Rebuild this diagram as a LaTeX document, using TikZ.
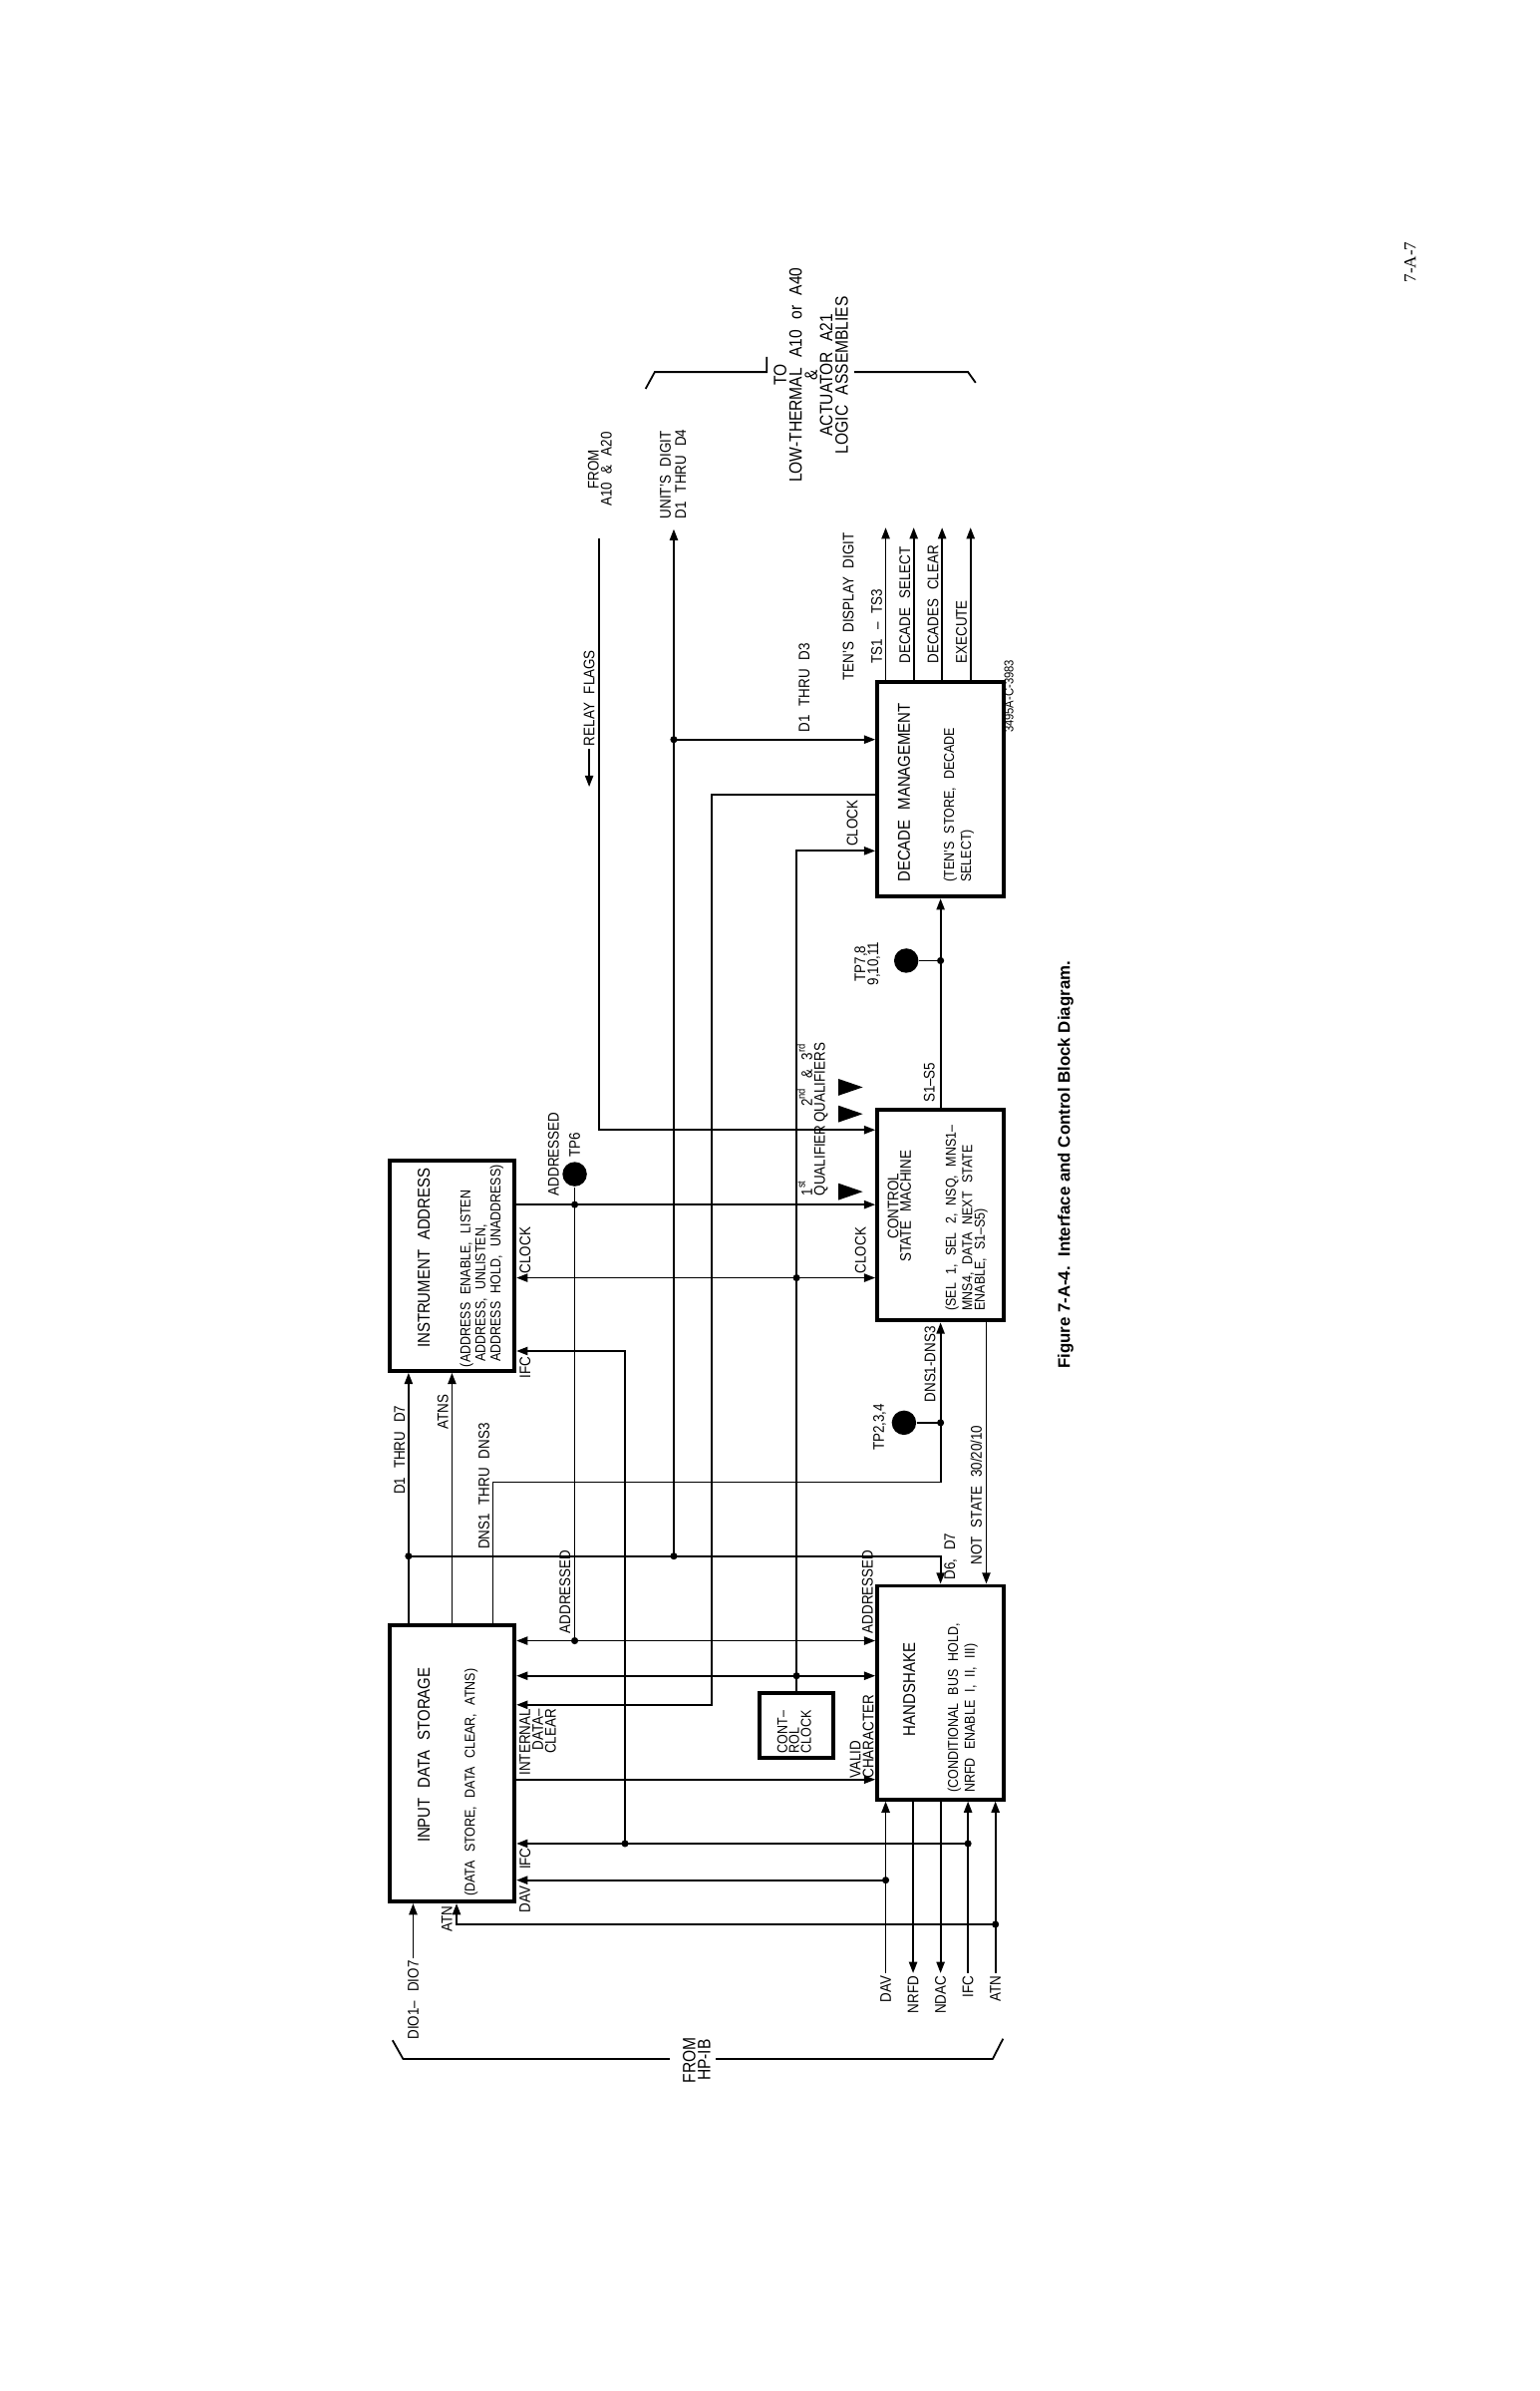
\documentclass[tikz,border=0pt]{standalone}
\usepackage{fontspec}
\setmainfont{Liberation Sans}[FakeStretch=0.87,WordSpace=2.4]
\newfontfamily\figcapfont{Liberation Sans}
\newfontfamily\pagenumfont{Liberation Serif}
\usepackage{tikz}
\usetikzlibrary{arrows.meta}

\tikzset{
    block/.style={draw, line width=1.1pt, inner sep=0pt},
    wire/.style={line width=0.5pt},
    sig/.style={wire, ->},
    sigboth/.style={wire, <->},
    sigtext/.style={font=\fontsize{4.3}{3.6}\selectfont, inner sep=0.6pt},
    blocktitle/.style={font=\fontsize{4.8}{4.8}\selectfont, inner sep=0pt},
    blocknote/.style={font=\fontsize{4}{3.5}\selectfont, inner sep=0pt, align=left, anchor=west},
    testpoint/.style={circle, fill, inner sep=0pt, minimum size=2.4mm},
}

\begin{document}
\begin{tikzpicture}[x=1.5cm, y=1.5cm, >={Triangle[length=1.1mm,width=0.8mm]}]
    \useasboundingbox (0,0) rectangle (10.10,15.68);
    \fill[white] (0,0) rectangle (10.10,15.68);

    \begin{scope}[shift={(10.10,0)}, rotate=90, transform shape]

    % Blocks
    \node[block, minimum width=2.07cm, minimum height=1.23cm] (ia) at (7.38,7.135) {};
    \node[block, minimum width=2.715cm, minimum height=1.23cm] (ids) at (4.115,7.135) {};
    \node[block, minimum width=2.07cm, minimum height=1.245cm] (csm) at (7.71,3.93) {};
    \node[block, minimum width=2.10cm, minimum height=1.245cm] (hs) at (4.58,3.93) {};
    \node[block, minimum width=2.115cm, minimum height=1.245cm] (dm) at (10.505,3.93) {};
    \node[block, minimum width=0.645cm, minimum height=0.72cm] (cc) at (4.365,4.875) {};

    % Block texts
    \node[blocktitle] (ia-t) at (7.43,7.32) {INSTRUMENT ADDRESS};
    \node[blocknote, font=\fontsize{4}{4.2}\selectfont] (ia-n) at (6.71,6.94) {(ADDRESS ENABLE, LISTEN\\\hspace*{1.5pt}ADDRESS, UNLISTEN,\\\hspace*{1.5pt}ADDRESS HOLD, UNADDRESS)};
    \node[blocktitle] (ids-t) at (4.17,7.32) {INPUT DATA STORAGE};
    \node[blocknote] (ids-n) at (3.24,7.01) {(DATA STORE, DATA CLEAR, ATNS)};
    \node[blocktitle, align=center, font=\fontsize{4.3}{3.5}\selectfont] (csm-t) at (7.77,4.20) {CONTROL\\STATE MACHINE};
    \node[blocknote] (csm-n) at (7.08,3.76) {(SEL 1, SEL 2, NSQ, MNS1--\\MNS4, DATA NEXT STATE\\ENABLE, S1--S5)};
    \node[blocktitle] (hs-t) at (4.60,4.135) {HANDSHAKE};
    \node[blocknote] (hs-n) at (3.92,3.785) {(CONDITIONAL BUS HOLD,\\NRFD ENABLE I, II, III)};
    \node[blocktitle, anchor=west] (dm-t) at (9.89,4.17) {DECADE MANAGEMENT};
    \node[blocknote] (dm-n) at (9.89,3.81) {(TEN'S STORE, DECADE\\SELECT)};
    \node[blocknote, font=\fontsize{4}{3.3}\selectfont] (cc-n) at (4.18,4.89) {CONT--\\ROL\\CLOCK};

    % Test points
    \node[testpoint] (tp6) at (7.98,6.33) {};
    \node[testpoint] (tp234) at (6.35,4.17) {};
    \node[testpoint] (tp7) at (9.38,4.155) {};

    % Junctions
    \coordinate (j-adr1) at (7.78,6.33);
    \coordinate (j-adr2) at (4.92,6.33);
    \coordinate (j-clk1) at (7.30,4.875);
    \coordinate (j-clk2) at (4.69,4.875);
    \coordinate (j-d7) at (5.475,7.42);
    \coordinate (j-bus) at (5.475,5.68);
    \coordinate (j-d3) at (10.83,5.68);
    \coordinate (j-dns) at (6.35,3.93);
    \coordinate (j-s) at (9.38,3.93);
    \coordinate (j-ifc1) at (3.59,6.00);
    \coordinate (j-ifc2) at (3.59,3.75);
    \coordinate (j-dav) at (3.35,4.29);
    \coordinate (j-atn) at (3.06,3.57);

    % Free ends and corners
    \coordinate (relay) at (12.15,6.17);
    \coordinate (relay-tip) at (10.52,6.235);
    \coordinate (unit) at (12.21,5.68);
    \coordinate (dio) at (2.84,7.39);
    \coordinate (dav) at (2.74,4.29);
    \coordinate (nrfd) at (2.74,4.11);
    \coordinate (ndac) at (2.74,3.93);
    \coordinate (ifc) at (2.74,3.75);
    \coordinate (atn) at (2.74,3.57);
    \coordinate (ts) at (12.22,4.29);
    \coordinate (dsel) at (12.22,4.106);
    \coordinate (dclr) at (12.22,3.92);
    \coordinate (exe) at (12.22,3.733);
    \coordinate (dns-turn) at (5.96,6.866);
    \coordinate (idc-turn) at (4.50,5.43);
    \coordinate (dm-clk) at (10.10,4.875);

    % Data from input storage
    \draw[sig] (ids.east |- j-d7) -- (j-d7 -| ia.west);
    \draw[sig] (ids.east) -- (ia.west);
    \draw[sig] (ids.east |- dns-turn) -- (dns-turn) |- (csm.west);
    \draw[sig] (j-d7) |- (hs.east);
    \draw[sig] (j-bus) -- (unit);
    \draw[sig] (j-d3) -- (j-d3 |- dm.north);

    % Addressed
    \draw[sig] (j-adr1 |- ia.south) -- (j-adr1 |- csm.north);
    \draw[wire] (j-adr1) -- (tp6);
    \draw[wire] (j-adr1) -- (j-adr2);
    \draw[sigboth] (j-adr2 |- ids.south) -- (j-adr2 |- hs.north);

    % Clock
    \draw[sig] (cc.east) -- (dm-clk) -- (dm-clk |- dm.north);
    \draw[sigboth] (j-clk1 |- ia.south) -- (j-clk1 |- csm.north);
    \draw[sigboth] (j-clk2 |- ids.south) -- (j-clk2 |- hs.north);

    % Relay flags
    \draw[sig] (relay) -| (8.27,0 |- csm.north);

    % Internal data clear
    \draw[sig] (10.47,0 |- dm.north) |- (idc-turn) -- (idc-turn |- ids.south);

    % IFC, DAV, ATN and valid character
    \draw[sig] (j-ifc2) -- (j-ifc2 |- ids.south);
    \draw[sig] (j-ifc1) -| (6.82,0 |- ia.south);
    \draw[sig] (j-dav) -- (j-dav |- ids.south);
    \draw[sig] (j-atn) |- (ids.west |- 0,7.105);
    \draw[sig] (4.01,0 |- ids.south) -- (4.01,0 |- hs.north);
    \draw[sig] (dio) -- (dio -| ids.west);

    % State lines
    \draw[sig] (csm.east) -- (dm.west);
    \draw[wire] (j-s) -- (tp7);
    \draw[wire] (j-dns) -- (tp234);
    \draw[sig] (csm.west |- 0,3.63) -- (hs.east |- 0,3.63);

    % Bus lines from HP-IB
    \draw[sig] (dav) -- (dav -| hs.west);
    \draw[sig] (nrfd -| hs.west) -- (nrfd);
    \draw[sig] (ndac -| hs.west) -- (ndac);
    \draw[sig] (ifc) -- (ifc -| hs.west);
    \draw[sig] (atn) -- (atn -| hs.west);

    % Decade outputs
    \draw[sig] (ts -| dm.east) -- (ts);
    \draw[sig] (dsel -| dm.east) -- (dsel);
    \draw[sig] (dclr -| dm.east) -- (dclr);
    \draw[sig] (exe -| dm.east) -- (exe);

    % Junction dots
    \fill (j-adr1) circle (0.35mm);
    \fill (j-adr2) circle (0.35mm);
    \fill (j-clk1) circle (0.35mm);
    \fill (j-clk2) circle (0.35mm);
    \fill (j-d7) circle (0.35mm);
    \fill (j-bus) circle (0.35mm);
    \fill (j-d3) circle (0.35mm);
    \fill (j-dns) circle (0.35mm);
    \fill (j-s) circle (0.35mm);
    \fill (j-ifc1) circle (0.35mm);
    \fill (j-ifc2) circle (0.35mm);
    \fill (j-dav) circle (0.35mm);
    \fill (j-atn) circle (0.35mm);

    % Qualifier marks
    \fill (7.81,4.60) -- (7.92,4.60) -- (7.865,4.44) -- cycle;
    \fill (8.32,4.60) -- (8.43,4.60) -- (8.375,4.44) -- cycle;
    \fill (8.495,4.60) -- (8.605,4.60) -- (8.55,4.44) -- cycle;

    % Brackets
    \draw[wire] (13.13,5.865) -- (13.24,5.805) -- (13.24,5.07) -- (13.34,5.07);
    \draw[wire] (13.24,4.495) -- (13.24,3.75) -- (13.17,3.70);
    \draw[wire] (2.30,7.525) -- (2.178,7.456) -- (2.178,5.707);
    \draw[wire] (2.178,5.405) -- (2.178,3.588) -- (2.31,3.52);

    % Labels round instrument address
    \node[sigtext, anchor=south west] (lb-d17) at (5.86,7.425) {D1 THRU D7};
    \node[sigtext, anchor=south west] (lb-atns) at (6.29,7.14) {ATNS};
    \node[sigtext, anchor=south west] (lb-dns3) at (5.50,6.87) {DNS1 THRU DNS3};
    \node[sigtext, anchor=north west] (lb-iaclk) at (7.31,6.71) {CLOCK};
    \node[sigtext, anchor=north east] (lb-iaifc) at (6.80,6.71) {IFC};
    \node[sigtext, anchor=south west] (lb-adr1) at (7.82,6.415) {ADDRESSED};
    \node[sigtext, anchor=west] (lb-tp6) at (8.07,6.33) {TP6};

    % Labels round control state machine
    \node[sigtext, anchor=south west] (lb-csmclk) at (7.31,4.40) {CLOCK};
    \node[sigtext, anchor=south west, align=left] (lb-q1) at (7.82,4.65) {1\textsuperscript{st}\\QUALIFIER};
    \node[sigtext, anchor=south east, align=right] (lb-q23) at (8.86,4.65) {2\textsuperscript{nd} \& 3\textsuperscript{rd}\\QUALIFIERS};
    \node[sigtext, anchor=south west] (lb-s15) at (8.43,3.95) {S1--S5};
    \node[sigtext, align=center] (lb-tp7) at (9.36,4.41) {TP7,8\\9,10,11};
    \node[sigtext, anchor=south east] (lb-dns) at (7.00,3.945) {DNS1-DNS3};
    \node[sigtext] (lb-tp234) at (6.32,4.33) {TP2,3,4};
    \node[sigtext, anchor=south west] (lb-ns) at (5.40,3.64) {NOT STATE 30/20/10};

    % Labels round handshake
    \node[sigtext, anchor=north west] (lb-d67) at (5.30,3.925) {D6, D7};
    \node[sigtext, anchor=south west] (lb-hsadr) at (4.95,4.355) {ADDRESSED};
    \node[sigtext, anchor=south west, align=left] (lb-valid) at (4.00,4.35) {VALID\\CHARACTER};
    \node[sigtext, anchor=east] (lb-dav) at (dav) {DAV};
    \node[sigtext, anchor=east] (lb-nrfd) at (nrfd) {NRFD};
    \node[sigtext, anchor=east] (lb-ndac) at (ndac) {NDAC};
    \node[sigtext, anchor=east] (lb-ifc) at (ifc) {IFC};
    \node[sigtext, anchor=east] (lb-atn) at (atn) {ATN};

    % Labels round input data storage
    \node[sigtext, anchor=south west] (lb-adr2) at (4.95,6.34) {ADDRESSED};
    \node[sigtext, anchor=north east, align=right] (lb-idc) at (4.49,6.71) {INTERNAL\\DATA--\\CLEAR};
    \node[sigtext, anchor=north east] (lb-idsifc) at (3.58,6.71) {IFC};
    \node[sigtext, anchor=north east] (lb-idsdav) at (3.33,6.71) {DAV};
    \node[sigtext, anchor=south east] (lb-idsatn) at (3.20,7.115) {ATN};
    \node[sigtext, anchor=east] (lb-dio) at (dio) {DIO1-- DIO7};
    \node[font=\fontsize{5}{4.2}\selectfont, align=center, inner sep=0pt] (lb-hpib) at (2.17,5.53) {FROM\\HP-IB};

    % Labels round decade management
    \node[sigtext, anchor=south west] (lb-dmclk) at (10.11,4.455) {CLOCK};
    \node[sigtext, anchor=south west] (lb-d13) at (10.86,4.77) {D1 THRU D3};
    \node[sigtext, anchor=west] (lb-tens) at (11.20,4.535) {TEN'S DISPLAY DIGIT};
    \node[sigtext, anchor=south west] (lb-ts) at (11.31,4.295) {TS1 -- TS3};
    \node[sigtext, anchor=south west] (lb-dsel) at (11.31,4.11) {DECADE SELECT};
    \node[sigtext, anchor=south west] (lb-dclr) at (11.31,3.925) {DECADES CLEAR};
    \node[sigtext, anchor=south west] (lb-exe) at (11.31,3.738) {EXECUTE};
    \node[sigtext, anchor=north east, font=\fontsize{3.6}{3.6}\selectfont] (lb-code) at (11.37,3.53) {3495A-C-3983};

    % Labels at the top end
    \node[sigtext, anchor=west] (lb-relay) at (10.77,6.235) {RELAY FLAGS};
    \draw[sig] (lb-relay.west) -- (relay-tip);
    \node[sigtext, anchor=west, align=center] (lb-from) at (12.34,6.165) {FROM\\A10 \& A20};
    \node[sigtext, anchor=west, align=left] (lb-unit) at (12.26,5.685) {UNIT'S DIGIT\\[0.6pt]D1 THRU D4};
    \node[font=\fontsize{5}{4.3}\selectfont, align=center, inner sep=0pt] (lb-to) at (13.22,4.78) {TO\\LOW-THERMAL A10 or A40\\\&\\ACTUATOR A21\\LOGIC ASSEMBLIES};

    % Caption and page number
    \node[font=\figcapfont\bfseries\fontsize{4.7}{5}\selectfont] (caption) at (8.04,3.11) {Figure 7-A-4.\ \ Interface and Control Block Diagram.};
    \node[font=\pagenumfont\fontsize{4.8}{5}\selectfont] (pagenum) at (13.96,0.85) {7-A-7};

    \end{scope}
\end{tikzpicture}
\end{document}
